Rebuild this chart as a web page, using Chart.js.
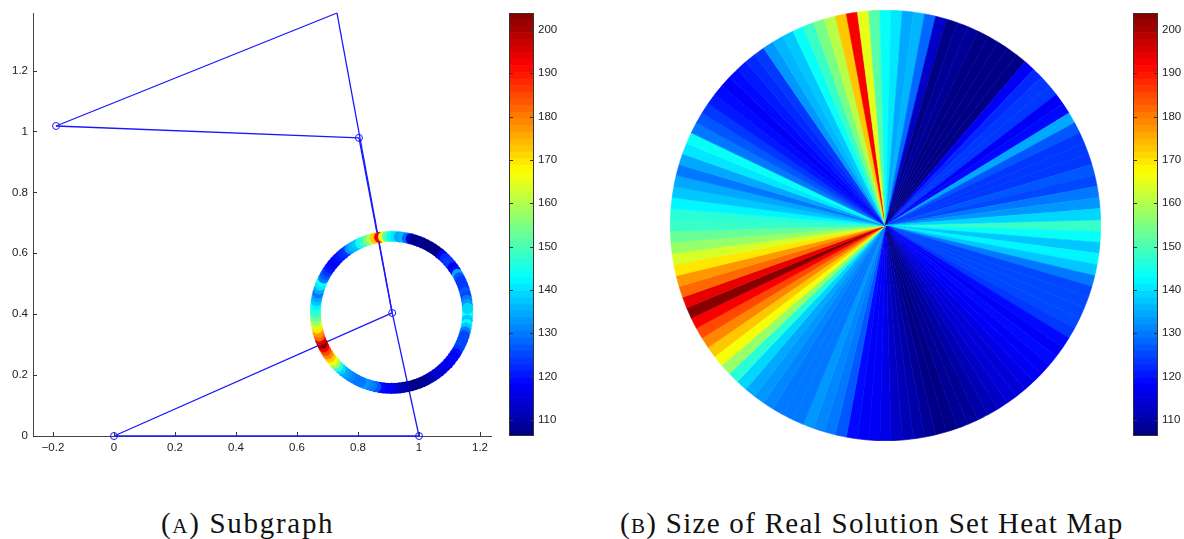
<!DOCTYPE html>
<html>
<head>
<meta charset="utf-8">
<title>Subgraph and heat map</title>
<script src="https://cdn.jsdelivr.net/npm/chart.js@4"></script>
<style>
  body { margin: 0; background: #fff; width: 1184px; height: 539px; overflow: hidden; position: relative; }
  canvas { position: absolute; display: block; }
  .caption { position: absolute; top: 507px; font-family: "Liberation Serif", serif; font-size: 29px; line-height: 32px; color: #111; white-space: nowrap; }
  .caption .sc { font-size: 21px; }
</style>
</head>
<body>
<canvas id="graphChart" width="500" height="470" style="left:0;top:0"></canvas>
<canvas id="barA" width="70" height="470" style="left:500px;top:0"></canvas>
<canvas id="heatChart" width="431" height="431" style="left:670px;top:10px"></canvas>
<canvas id="barB" width="70" height="470" style="left:1124px;top:0"></canvas>
<div class="caption" style="left:161px;letter-spacing:1.7px">(<span class="sc">A</span>) Subgraph</div>
<div class="caption" style="left:620px;letter-spacing:1.29px">(<span class="sc">B</span>) Size of Real Solution Set Heat Map</div>
<script>
// real solution set size every 3 degrees, clockwise from east
const sizes = [
  148, 143, 138, 142, 137, 130, 125, 125, 125, 125,
  123, 119, 118, 119, 118, 117, 116, 115, 114, 113,
  112, 110, 109, 108, 107, 107, 108, 110, 112, 113,
  116, 117, 118, 119, 126, 130, 131, 132, 129, 129,
  129, 131, 133, 135, 139, 146, 158, 166, 172, 178,
  185, 192, 204, 194, 181, 177, 170, 164, 157, 152,
  148, 146, 142, 138, 134, 129, 135, 141, 143, 130,
  126, 124, 121, 118.5, 118, 119, 120, 122, 123, 133,
  136, 138, 143, 148, 154, 161, 172, 192, 165, 151,
  143, 141, 135, 136, 128, 113, 107, 109, 108, 107,
  107, 106.5, 106.5, 107, 118, 122, 123, 124, 118, 119,
  134, 126, 124, 124, 124, 126, 125, 129, 133, 139
];
const sliceStep = 3;

// subgraph nodes, last one is the apex without a marker
const nodeX = [0, 1, -0.19, 0.803, 0.912, 0.731];
const nodeY = [0, 0, 1.018, 0.979, 0.404, 1.389];
const edgeFrom = [0, 0, 2, 2, 3, 5, 4];
const edgeTo = [1, 4, 5, 3, 4, 4, 1];
const markedNodes = [0, 1, 2, 3, 4];

const ringCenterX = 0.91;
const ringCenterY = 0.406;
const ringRadius = 0.2495;

const xTicks = [-0.2, 0, 0.2, 0.4, 0.6, 0.8, 1, 1.2];
const xTickLabels = ['\u22120.2', '0', '0.2', '0.4', '0.6', '0.8', '1', '1.2'];
const yTicks = [0, 0.2, 0.4, 0.6, 0.8, 1, 1.2];
const yTickLabels = ['0', '0.2', '0.4', '0.6', '0.8', '1', '1.2'];
const barTicks = [110, 120, 130, 140, 150, 160, 170, 180, 190, 200];

// colorbar band edges
const barLevels = [
  106.0, 107.5, 109.1, 110.6, 112.1, 113.7, 115.2, 116.7, 118.3, 119.8, 121.3, 122.8, 124.4,
  125.9, 127.4, 129.0, 130.5, 132.0, 133.6, 135.1, 136.6, 138.2, 139.7, 141.2, 142.8, 144.3,
  145.8, 147.3, 148.9, 150.4, 151.9, 153.5, 155.0, 156.5, 158.1, 159.6, 161.1, 162.7, 164.2,
  165.7, 167.3, 168.8, 170.3, 171.8, 173.4, 174.9, 176.4, 178.0, 179.5, 181.0, 182.6, 184.1,
  185.6, 187.2, 188.7, 190.2, 191.8, 193.3, 194.8, 196.3, 197.9, 199.4, 200.9, 202.5, 204.0
];

function jet(value) {
  const t = (value - 106) / 98;
  const ch = function (center) {
    return Math.round(255 * Math.max(0, Math.min(1, 1.5 - Math.abs(4 * t - center))));
  };
  return 'rgb(' + ch(3) + ',' + ch(2) + ',' + ch(1) + ')';
}

// same flat bands as the colorbar
function bandColor(value) {
  let i = 0;
  while (i < barLevels.length - 2 && value >= barLevels[i + 1]) i++;
  return jet((barLevels[i] + barLevels[i + 1]) / 2);
}

// matlab style ticks, pointing into the plot
const insideTicks = {
  id: 'insideTicks',
  afterDraw(chart, args, opts) {
    const ctx = chart.ctx;
    const area = chart.chartArea;
    const len = 4;
    ctx.save();
    ctx.strokeStyle = '#333';
    ctx.lineWidth = 1;
    ctx.beginPath();
    if (opts.box) {
      ctx.rect(area.left + 0.5, area.top + 0.5, area.right - area.left - 1, area.bottom - area.top - 1);
    } else {
      chart.scales.x.ticks.forEach(function (t) {
        const px = Math.round(chart.scales.x.getPixelForValue(t.value)) + 0.5;
        ctx.moveTo(px, area.bottom);
        ctx.lineTo(px, area.bottom - len);
      });
    }
    chart.scales.y.ticks.forEach(function (t) {
      const py = Math.round(chart.scales.y.getPixelForValue(t.value)) + 0.5;
      ctx.moveTo(area.left, py);
      ctx.lineTo(area.left + len, py);
      if (opts.box) {
        ctx.moveTo(area.right, py);
        ctx.lineTo(area.right - len, py);
      }
    });
    ctx.stroke();
    ctx.restore();
  }
};

Chart.defaults.font.family = '"Liberation Sans", Arial, sans-serif';
Chart.defaults.font.size = 11.5;
Chart.defaults.color = '#222';
Chart.defaults.animation = false;
Chart.defaults.responsive = false;
Chart.defaults.plugins.legend.display = false;

const ringPoints = sizes.map(function (s, i) {
  const angle = i * sliceStep * Math.PI / 180;
  return { x: ringCenterX + ringRadius * Math.cos(angle), y: ringCenterY - ringRadius * Math.sin(angle) };
});

const edgeDatasets = edgeFrom.map(function (a, i) {
  const b = edgeTo[i];
  return {
    data: [{ x: nodeX[a], y: nodeY[a] }, { x: nodeX[b], y: nodeY[b] }],
    showLine: true,
    borderColor: '#1818ff',
    borderWidth: 1.3,
    pointRadius: 0,
    clip: false
  };
});

new Chart(document.getElementById('graphChart'), {
  type: 'scatter',
  plugins: [insideTicks],
  data: {
    datasets: [
      {
        label: 'Ring',
        data: ringPoints,
        backgroundColor: sizes.map(bandColor),
        borderWidth: 0,
        pointRadius: 5.6
      },
      {
        label: 'Nodes',
        data: markedNodes.map(function (n) { return { x: nodeX[n], y: nodeY[n] }; }),
        backgroundColor: 'rgba(0,0,0,0)',
        borderColor: '#1818ff',
        borderWidth: 1,
        pointRadius: 3.5,
        clip: false
      }
    ].concat(edgeDatasets)
  },
  options: {
    layout: { padding: { top: 13, right: 9 } },
    plugins: { insideTicks: { box: false }, tooltip: { enabled: false } },
    scales: {
      x: {
        type: 'linear',
        min: -0.2656,
        max: 1.236,
        grid: { display: false, drawTicks: false },
        border: { color: '#444' },
        afterBuildTicks: function (s) { s.ticks = xTicks.map(function (v) { return { value: v }; }); },
        afterFit: function (s) { s.height = 34; },
        ticks: {
          padding: 5,
          maxRotation: 0,
          autoSkip: false,
          callback: function (v) { return xTickLabels[xTicks.indexOf(v)]; }
        }
      },
      y: {
        type: 'linear',
        min: 0,
        max: 1.389,
        grid: { display: false, drawTicks: false },
        border: { color: '#444' },
        afterBuildTicks: function (s) { s.ticks = yTicks.map(function (v) { return { value: v }; }); },
        afterFit: function (s) { s.width = 33; },
        ticks: {
          padding: 5,
          autoSkip: false,
          callback: function (v) { return yTickLabels[yTicks.indexOf(v)]; }
        }
      }
    }
  }
});

new Chart(document.getElementById('heatChart'), {
  type: 'pie',
  data: {
    labels: sizes.map(function (s, i) { return (i * sliceStep) + '\u00b0'; }),
    datasets: [{
      data: sizes.map(function () { return sliceStep; }),
      backgroundColor: sizes.map(bandColor),
      borderColor: sizes.map(bandColor),
      borderWidth: 0.6
    }]
  },
  options: {
    rotation: 88.5,
    plugins: { tooltip: { enabled: false } }
  }
});

function drawColorbar(id) {
  const bands = barLevels.slice(0, -1).map(function (lo, i) {
    const hi = barLevels[i + 1];
    return {
      data: [[lo, hi]],
      backgroundColor: jet((lo + hi) / 2),
      borderWidth: 0,
      barPercentage: 1,
      categoryPercentage: 1,
      grouped: false
    };
  });
  new Chart(document.getElementById(id), {
    type: 'bar',
    plugins: [insideTicks],
    data: { labels: ['size'], datasets: bands },
    options: {
      layout: { padding: { top: 13, bottom: 34, left: 9 } },
      plugins: { insideTicks: { box: true }, tooltip: { enabled: false } },
      scales: {
        x: { display: false },
        y: {
          position: 'right',
          min: 106.3,
          max: 203.9,
          grid: { display: false, drawTicks: false },
          border: { display: false },
          afterBuildTicks: function (s) { s.ticks = barTicks.map(function (v) { return { value: v }; }); },
          afterFit: function (s) { s.width = 36; },
          ticks: { padding: 4, autoSkip: false }
        }
      }
    }
  });
}

drawColorbar('barA');
drawColorbar('barB');
</script>
</body>
</html>
